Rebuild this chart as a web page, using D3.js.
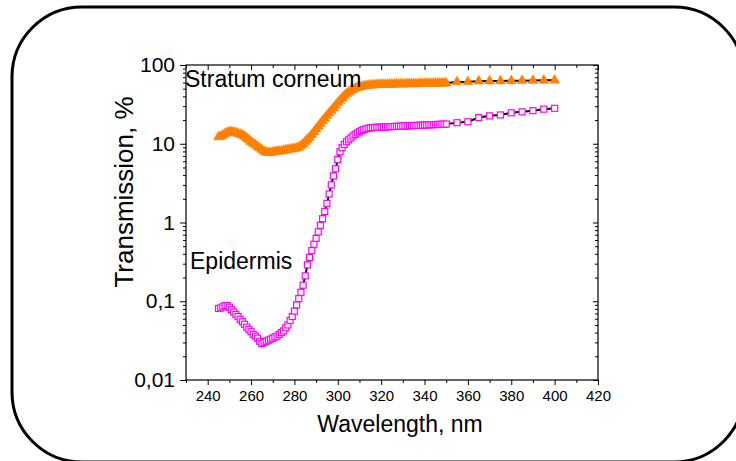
<!DOCTYPE html>
<html>
<head>
<meta charset="utf-8">
<script src="https://cdn.jsdelivr.net/npm/d3@7"></script>
<style>
  html, body { margin: 0; padding: 0; background: #fff; }
  svg { display: block; font-family: "Liberation Sans", Arial, sans-serif; }
</style>
</head>
<body>
<div id="chart"></div>
<script>
// ---------------- data ----------------
const wavelengths = [
  245,246,247,248,249,250,251,252,253,254,
  255,256,257,258,259,260,261,262,263,264,
  265,266,267,268,269,270,271,272,273,274,
  275,276,277,278,279,280,281,282,283,284,
  285,286,287,288,289,290,291,292,293,294,
  295,296,297,298,299,300,301,302,303,304,
  305,306,307,308,309,310,311,312,313,314,
  315,316,317,318,319,320,321,322,323,324,
  325,326,327,328,329,330,331,332,333,334,
  335,336,337,338,339,340,341,342,343,344,
  345,346,347,348,349,350,
  355,360,365,370,375,380,385,390,395,400
];
const stratumCorneum = [
  12.2,12.4,12.8,13.4,13.9,14.2,14.2,14.0,13.8,13.5,
  13.2,12.9,12.4,11.8,11.2,10.6,10.1,9.7,9.2,8.8,
  8.4,8.0,7.8,7.7,7.7,7.8,7.9,8.0,8.0,8.1,
  8.2,8.3,8.4,8.5,8.6,8.7,8.8,9.0,9.4,9.9,
  10.6,11.3,12.1,13.0,14.1,15.3,16.6,18.0,19.5,21.0,
  22.7,24.5,26.4,28.4,30.6,33.0,35.5,38.0,40.6,43.0,
  45.1,47.0,48.8,50.4,51.6,52.6,53.4,54.0,54.6,55.0,
  55.4,55.7,56.0,56.2,56.4,56.5,56.6,56.7,56.8,56.9,
  57.0,57.0,57.1,57.2,57.3,57.4,57.4,57.5,57.6,57.6,
  57.7,57.8,57.8,57.9,58.0,58.0,58.1,58.2,58.3,58.3,
  58.4,58.5,58.6,58.7,58.8,58.9,
  61.0,61.2,62.3,62.5,62.7,63.0,63.2,63.6,63.8,64.0
];
const epidermis = [
  0.081,0.082,0.085,0.088,0.088,0.084,0.078,0.073,0.068,0.064,
  0.059,0.055,0.051,0.047,0.044,0.041,0.038,0.036,0.034,0.031,
  0.029,0.030,0.031,0.032,0.033,0.034,0.035,0.036,0.038,0.040,
  0.042,0.046,0.050,0.057,0.064,0.075,0.090,0.108,0.13,0.16,
  0.21,0.29,0.36,0.44,0.53,0.63,0.76,0.92,1.12,1.38,
  1.75,2.3,3.0,3.9,4.8,6.3,7.9,8.9,9.8,10.6,
  11.2,11.8,12.5,13.1,13.7,14.2,14.7,15.1,15.4,15.7,
  15.9,16.0,16.1,16.2,16.2,16.3,16.3,16.4,16.4,16.5,
  16.5,16.6,16.6,16.7,16.7,16.8,16.8,16.9,16.9,17.0,
  17.0,17.1,17.1,17.2,17.2,17.3,17.3,17.4,17.4,17.5,
  17.5,17.6,17.6,17.7,17.7,17.8,
  18.5,19.0,21.5,22.6,23.2,24.7,25.4,26.3,27.5,28.2
];
const xTicks = [240,260,280,300,320,340,360,380,400,420];
const xMinorTicks = [230,250,270,290,310,330,350,370,390,410];
const yTicks = [0.01,0.1,1,10,100];
const yTickLabels = ["0,01","0,1","1","10","100"];
const xTitle = "Wavelength, nm";
const yTitle = "Transmission, %";
const seriesNames = ["Stratum corneum","Epidermis"];

// ---------------- layout ----------------
const W = 736, H = 461;
const pL = 186, pR = 598, pT = 65, pB = 380;
const FONT = "'Liberation Sans', Arial, sans-serif";

const svg = d3.select("#chart").append("svg")
  .attr("width", W).attr("height", H);

// rounded frame
svg.append("rect")
  .attr("x", 12).attr("y", 7)
  .attr("width", 732).attr("height", 455)
  .attr("rx", 70).attr("ry", 70)
  .attr("fill", "none").attr("stroke", "#000").attr("stroke-width", 3);

const x = d3.scaleLinear().domain([230, 420]).range([pL, pR]);
const y = d3.scaleLog().domain([0.01, 100]).range([pB, pT]);

// minor ticks for log axis
const yMinor = [];
[0.01, 0.1, 1, 10].forEach(d => { for (let k = 2; k <= 9; k++) yMinor.push(+(d * k).toPrecision(3)); });

// bottom axis
const gB = svg.append("g").attr("transform", `translate(0,${pB})`);
gB.call(d3.axisBottom(x).tickValues(xTicks).tickSize(5).tickPadding(5).tickFormat(d3.format("d")));
gB.append("g").call(d3.axisBottom(x).tickValues(xMinorTicks).tickSize(3).tickFormat(""));
// top axis (inward)
const gT = svg.append("g").attr("transform", `translate(0,${pT})`);
gT.call(d3.axisBottom(x).tickValues(xTicks).tickSize(5).tickFormat(""));
gT.append("g").call(d3.axisBottom(x).tickValues(xMinorTicks).tickSize(3).tickFormat(""));
// left axis
const gL = svg.append("g").attr("transform", `translate(${pL},0)`);
gL.call(d3.axisLeft(y).tickValues(yTicks).tickSize(6).tickPadding(5)
  .tickFormat(d => yTickLabels[yTicks.indexOf(d)]));
gL.append("g").call(d3.axisLeft(y).tickValues(yMinor).tickSize(3).tickFormat(""));
// right axis (inward)
const gR = svg.append("g").attr("transform", `translate(${pR},0)`);
gR.call(d3.axisRight(y).tickValues(yTicks).tickSize(-5).tickFormat(""));
gR.append("g").call(d3.axisRight(y).tickValues(yMinor).tickSize(-3).tickFormat(""));

svg.selectAll(".domain").remove();
svg.selectAll(".tick line").attr("stroke", "#000").attr("stroke-width", 1);
gB.selectAll(".tick text").attr("font-size", 15).attr("fill", "#000").attr("font-family", FONT);
gL.selectAll(".tick text").attr("font-size", 21).attr("fill", "#000").attr("font-family", FONT);

// frame of plot
svg.append("rect").attr("x", pL).attr("y", pT).attr("width", pR - pL).attr("height", pB - pT)
  .attr("fill", "none").attr("stroke", "#000").attr("stroke-width", 1.2);

// titles
svg.append("text").attr("x", 400).attr("y", 432).attr("text-anchor", "middle")
  .attr("font-size", 23).attr("fill", "#000").text(xTitle);
svg.append("text").attr("transform", "translate(133,192) rotate(-90)")
  .attr("text-anchor", "middle").attr("font-size", 26).attr("fill", "#000").text(yTitle);

// series
const line = d3.line().x((d, i) => x(wavelengths[i])).y(d => y(d));
const plot = svg.append("g");

// stratum corneum
plot.append("path").datum(stratumCorneum).attr("d", line)
  .attr("fill", "none").attr("stroke", "#000").attr("stroke-width", 2);
const tri = d3.symbol().type(d3.symbolTriangle).size(44);
plot.append("g").selectAll("path").data(stratumCorneum).join("path")
  .attr("transform", (d, i) => `translate(${x(wavelengths[i])},${y(d)})`)
  .attr("d", tri).attr("fill", "#ff8000").attr("stroke", "#ff8000").attr("stroke-width", 0.5);

// epidermis
plot.append("path").datum(epidermis).attr("d", line)
  .attr("fill", "none").attr("stroke", "#000").attr("stroke-width", 2);
plot.append("g").selectAll("rect").data(epidermis).join("rect")
  .attr("x", (d, i) => x(wavelengths[i]) - 3)
  .attr("y", d => y(d) - 3)
  .attr("width", 6).attr("height", 6)
  .attr("fill", "#fff").attr("stroke", "#ff00ff").attr("stroke-width", 1.2);

// labels
svg.append("text").attr("x", 185).attr("y", 87).attr("font-size", 23).attr("fill", "#000").text(seriesNames[0]);
svg.append("text").attr("x", 190).attr("y", 269).attr("font-size", 23).attr("fill", "#000").text(seriesNames[1]);
</script>
</body>
</html>
